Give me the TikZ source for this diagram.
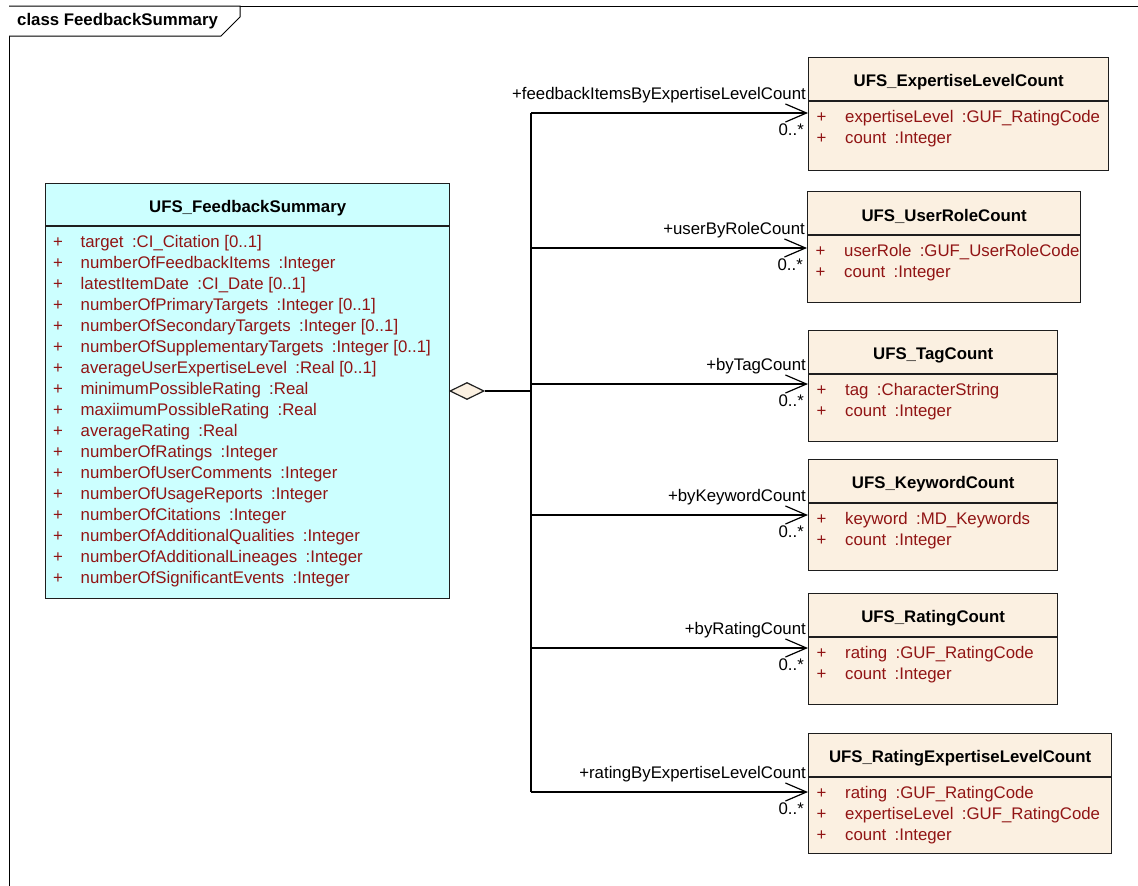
\documentclass[tikz,border=0pt]{standalone}
\usepackage{fontspec}
\setmainfont{Liberation Sans}
\usetikzlibrary{arrows.meta,shapes.geometric}
\definecolor{clsfill}{RGB}{204,255,255}
\definecolor{cntfill}{RGB}{251,240,225}
\definecolor{attrred}{RGB}{145,20,20}
\definecolor{edgegray}{RGB}{30,30,30}
\newcommand\gp{\hspace{0.5em}}
\tikzset{
  umlbox/.style={draw=edgegray, line width=1.3pt, inner sep=0pt, anchor=north west},
  boxline/.style={draw=edgegray, line width=1.1pt},
  titletext/.style={font=\fontsize{16.8}{19}\selectfont\bfseries, inner sep=0pt},
  attrtext/.style={font=\fontsize{16.8}{19}\selectfont, text=attrred, inner sep=0pt, anchor=base west},
  roletext/.style={font=\fontsize{16.8}{19}\selectfont, inner sep=0pt, anchor=base east},
  assoc/.style={line width=1.2pt, -{Straight Barb[length=21pt,width=18pt]}},
  plainline/.style={line width=1.2pt},
}
\newcommand\umlcount[7]{%
  \node[umlbox, fill=cntfill, minimum width=#4pt, minimum height=#5pt] (#1) at (#2,#3) {};
  \draw[boxline] ([yshift=-44pt]#1.north west) -- ([yshift=-44pt]#1.north east);
  \node[titletext] (#1t) at ([yshift=-25pt]#1.north) {#6};
  \foreach \a [count=\i from 0] in {#7}
    \node[attrtext] (#1a\i) at ([xshift=8.5pt, yshift={-(65.5pt+21pt*\i)}]#1.north west)
      {\makebox[28.5pt][l]{+}\a};
}
\begin{document}
\begin{tikzpicture}[x=1pt,y=-1pt]
\useasboundingbox (0,0) rectangle (1138,886);

% frame
\draw[line width=1pt] (1138,6) -- (9,6) -- (9,886);
\draw[line width=1pt, fill=white] (9,6) -- (240,6) -- (240,17) -- (221,36) -- (9,36);
\node[titletext, anchor=west] (frametitle) at (17,21) {class FeedbackSummary};

% main class
\node[umlbox, fill=clsfill, minimum width=404pt, minimum height=415pt] (fs) at (45,183) {};
\draw[boxline] ([yshift=-43pt]fs.north west) -- ([yshift=-43pt]fs.north east);
\node[titletext] (fst) at ([yshift=-25.5pt]fs.north) {UFS\_FeedbackSummary};
\foreach \a [count=\i from 0] in {
  target\gp:CI\_Citation [0..1],
  numberOfFeedbackItems\gp:Integer,
  latestItemDate\gp:CI\_Date [0..1],
  numberOfPrimaryTargets\gp:Integer [0..1],
  numberOfSecondaryTargets\gp:Integer [0..1],
  numberOfSupplementaryTargets\gp:Integer [0..1],
  averageUserExpertiseLevel\gp:Real [0..1],
  minimumPossibleRating\gp:Real,
  maxiimumPossibleRating\gp:Real,
  averageRating\gp:Real,
  numberOfRatings\gp:Integer,
  numberOfUserComments\gp:Integer,
  numberOfUsageReports\gp:Integer,
  numberOfCitations\gp:Integer,
  numberOfAdditionalQualities\gp:Integer,
  numberOfAdditionalLineages\gp:Integer,
  numberOfSignificantEvents\gp:Integer}
  \node[attrtext] (fsa\i) at ([xshift=8pt, yshift={-(64.5pt+21pt*\i)}]fs.north west)
    {\makebox[27.5pt][l]{+}\a};

% count classes
\umlcount{b1}{808}{57}{300}{113}{UFS\_ExpertiseLevelCount}{expertiseLevel\gp:GUF\_RatingCode, count\gp:Integer}
\umlcount{b2}{807}{191}{273}{111}{UFS\_UserRoleCount}{userRole\gp:GUF\_UserRoleCode, count\gp:Integer}
\umlcount{b3}{808}{330}{249}{111}{UFS\_TagCount}{tag\gp:CharacterString, count\gp:Integer}
\umlcount{b4}{808}{459}{249}{111}{UFS\_KeywordCount}{keyword\gp:MD\_Keywords, count\gp:Integer}
\umlcount{b5}{808}{593}{249}{111}{UFS\_RatingCount}{rating\gp:GUF\_RatingCode, count\gp:Integer}
\umlcount{b6}{808}{733}{303}{120}{UFS\_RatingExpertiseLevelCount}{rating\gp:GUF\_RatingCode, expertiseLevel\gp:GUF\_RatingCode, count\gp:Integer}

% aggregation
\node[diamond, draw=edgegray, fill=cntfill, line width=1.2pt, inner sep=0pt,
      minimum width=34pt, minimum height=17pt] (dia) at (467,391) {};
\coordinate (bj) at (531,391);
\draw[plainline] (dia.east) -- (bj);
\coordinate (j1) at (531,113);
\coordinate (j2) at (531,248);
\coordinate (j3) at (531,384);
\coordinate (j4) at (531,515);
\coordinate (j5) at (531,648);
\coordinate (j6) at (531,792);
\draw[plainline] (j1) -- (j6);

\foreach \k/\role in {1/+feedbackItemsByExpertiseLevelCount, 2/+userByRoleCount, 3/+byTagCount,
                      4/+byKeywordCount, 5/+byRatingCount, 6/+ratingByExpertiseLevelCount}{
  \draw[assoc] (j\k) -- (j\k -| b\k.west);
  \node[roletext] (r\k) at ([xshift=-2pt, yshift=13.5pt]j\k -| b\k.west) {\role};
  \node[roletext] (m\k) at ([xshift=-4pt, yshift=-22.5pt]j\k -| b\k.west) {0..*};
}
\end{tikzpicture}
\end{document}
